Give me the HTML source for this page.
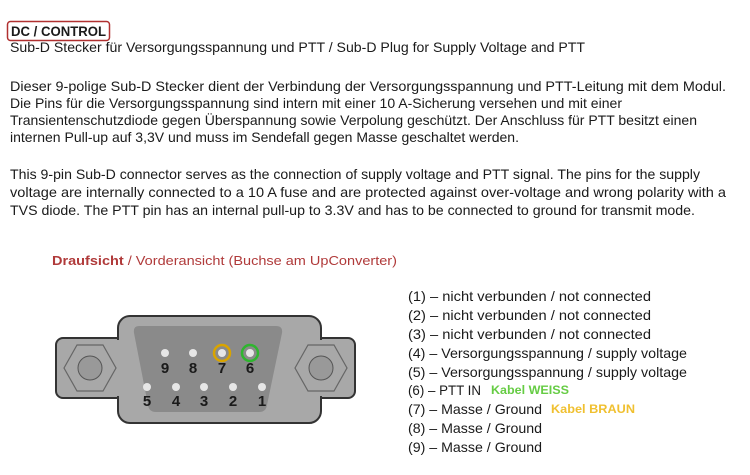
<!DOCTYPE html>
<html><head><meta charset="utf-8"><style>
html,body{margin:0;padding:0;background:#fff;width:750px;height:475px;overflow:hidden}
svg{display:block}
text{font-family:"Liberation Sans",sans-serif;fill:#1a1a1a}
</style></head><body>
<svg width="750" height="475" viewBox="0 0 750 475" xmlns="http://www.w3.org/2000/svg">
<rect x="7.5" y="21.5" width="102" height="19" rx="3" fill="none" stroke="#b03030" stroke-width="1.5"/>
<g font-size="14">
<text x="11" y="36" font-weight="bold" textLength="95" lengthAdjust="spacingAndGlyphs">DC / CONTROL</text>
<text x="10" y="52" textLength="575" lengthAdjust="spacingAndGlyphs">Sub-D Stecker für Versorgungsspannung und PTT  / Sub-D Plug for Supply Voltage and PTT</text>
<text x="10" y="91" textLength="716" lengthAdjust="spacingAndGlyphs">Dieser 9-polige Sub-D Stecker dient der Verbindung der Versorgungsspannung und PTT-Leitung mit dem Modul.</text>
<text x="10" y="108" textLength="612" lengthAdjust="spacingAndGlyphs">Die Pins für die Versorgungsspannung sind intern mit einer 10 A-Sicherung versehen und mit einer</text>
<text x="10" y="125" textLength="687" lengthAdjust="spacingAndGlyphs">Transientenschutzdiode gegen Überspannung sowie Verpolung geschützt. Der Anschluss für PTT besitzt einen</text>
<text x="10" y="142" textLength="509" lengthAdjust="spacingAndGlyphs">internen Pull-up auf 3,3V und muss im Sendefall gegen Masse geschaltet werden.</text>
<text x="10" y="179" textLength="690" lengthAdjust="spacingAndGlyphs">This 9-pin Sub-D connector serves as the connection of supply voltage and PTT signal. The pins for the supply</text>
<text x="10" y="197" textLength="716" lengthAdjust="spacingAndGlyphs">voltage are internally connected to a 10 A fuse and are protected against over-voltage and wrong polarity with a</text>
<text x="10" y="215" textLength="685" lengthAdjust="spacingAndGlyphs">TVS diode. The PTT pin has an internal pull-up to 3.3V and has to be connected to ground for transmit mode.</text>
</g>
<text x="52" y="265" font-size="12.5" style="fill:#b03a3a" textLength="345" lengthAdjust="spacingAndGlyphs"><tspan font-weight="bold">Draufsicht</tspan> / Vorderansicht (Buchse am UpConverter)</text>
<rect x="56" y="338" width="299" height="60" rx="7" fill="#a8a8a8" stroke="#333" stroke-width="2"/>
<rect x="118" y="316" width="203" height="107" rx="12" fill="#a8a8a8" stroke="#333" stroke-width="2"/>
<rect x="58" y="340" width="295" height="56" rx="6" fill="#a8a8a8"/>
<path d="M139 326 L276 326 Q283 326 282 333 L267 405 Q266 412 259 412 L156 412 Q149 412 148 405 L134 333 Q133 326 139 326 Z" fill="#8a8a8a"/>
<polygon points="64,368 77,345 103,345 116,368 103,391 77,391" fill="none" stroke="#666" stroke-width="1.2"/>
<circle cx="90" cy="368" r="12" fill="#999" stroke="#555"/>
<polygon points="295,368 308,345 334,345 347,368 334,391 308,391" fill="none" stroke="#666" stroke-width="1.2"/>
<circle cx="321" cy="368" r="12" fill="#999" stroke="#555"/>
<circle cx="222" cy="353" r="8" fill="none" stroke="#d9a400" stroke-width="2.5"/>
<circle cx="250" cy="353" r="8" fill="none" stroke="#2fb52f" stroke-width="2.5"/>
<g fill="#e6e6e6">
<circle cx="165" cy="353" r="4"/><circle cx="193" cy="353" r="4"/><circle cx="222" cy="353" r="4"/><circle cx="250" cy="353" r="4"/>
<circle cx="147" cy="387" r="4"/><circle cx="176" cy="387" r="4"/><circle cx="204" cy="387" r="4"/><circle cx="233" cy="387" r="4"/><circle cx="262" cy="387" r="4"/>
</g>
<g font-size="15" font-weight="bold" text-anchor="middle">
<text x="165" y="373">9</text><text x="193" y="373">8</text><text x="222" y="373">7</text><text x="250" y="373">6</text>
<text x="147" y="406">5</text><text x="176" y="406">4</text><text x="204" y="406">3</text><text x="233" y="406">2</text><text x="262" y="406">1</text>
</g>
<g font-size="14">
<text x="408" y="301" textLength="243" lengthAdjust="spacingAndGlyphs">(1) – nicht verbunden / not connected</text>
<text x="408" y="320" textLength="243" lengthAdjust="spacingAndGlyphs">(2) – nicht verbunden / not connected</text>
<text x="408" y="339" textLength="243" lengthAdjust="spacingAndGlyphs">(3) – nicht verbunden / not connected</text>
<text x="408" y="358" textLength="279" lengthAdjust="spacingAndGlyphs">(4) – Versorgungsspannung / supply voltage</text>
<text x="408" y="377" textLength="279" lengthAdjust="spacingAndGlyphs">(5) – Versorgungsspannung / supply voltage</text>
<text x="408" y="395" textLength="73" lengthAdjust="spacingAndGlyphs">(6) – PTT IN</text>
<text x="408" y="414" textLength="134" lengthAdjust="spacingAndGlyphs">(7) – Masse / Ground</text>
<text x="408" y="433" textLength="134" lengthAdjust="spacingAndGlyphs">(8) – Masse / Ground</text>
<text x="408" y="452" textLength="134" lengthAdjust="spacingAndGlyphs">(9) – Masse / Ground</text>
</g>
<text x="491" y="394" font-size="11.5" font-weight="bold" style="fill:#66cc44" textLength="78" lengthAdjust="spacingAndGlyphs">Kabel WEISS</text>
<text x="551" y="413" font-size="11.5" font-weight="bold" style="fill:#f0c030" textLength="84" lengthAdjust="spacingAndGlyphs">Kabel BRAUN</text>
</svg>
</body></html>
